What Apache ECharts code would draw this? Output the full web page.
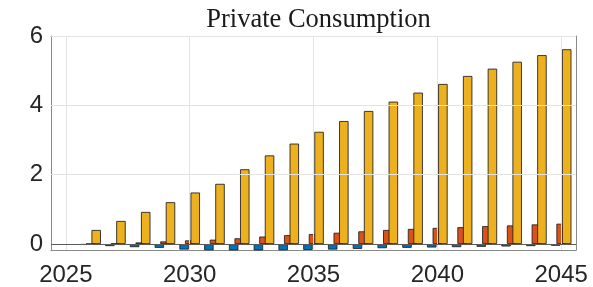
<!DOCTYPE html>
<html>
<head>
<meta charset="utf-8">
<script src="https://cdn.jsdelivr.net/npm/echarts@6/dist/echarts.min.js"></script>
<style>
html,body{margin:0;padding:0;background:#fff;}
#chart{width:593px;height:287px;}
</style>
</head>
<body>
<div id="chart"></div>
<script>
const years = [2026,2027,2028,2029,2030,2031,2032,2033,2034,2035,2036,2037,2038,2039,2040,2041,2042,2043,2044,2045];
const blueVals = [-0.02,-0.06,-0.09,-0.11,-0.16,-0.18,-0.19,-0.19,-0.18,-0.17,-0.16,-0.14,-0.12,-0.11,-0.10,-0.09,-0.08,-0.07,-0.06,-0.05];
const redVals = [0.01,0.02,0.05,0.08,0.11,0.13,0.17,0.22,0.26,0.29,0.33,0.37,0.41,0.44,0.47,0.49,0.52,0.54,0.57,0.59];
const yellowVals = [0.41,0.67,0.93,1.21,1.49,1.74,2.16,2.56,2.90,3.24,3.55,3.84,4.11,4.37,4.62,4.85,5.06,5.26,5.45,5.62];
const xTicks = [2025,2030,2035,2040,2045];
const yTicks = [0,2,4,6];
const titleText = 'Private Consumption';

const chart = echarts.init(document.getElementById('chart'), null, {renderer:'canvas'});
const pair = arr => years.map((y,i)=>[y, arr[i]]);
const axisColor = '#8a8a8a';
const labelFont = {fontFamily:'Liberation Sans', fontSize:24, color:'#262626'};
const edge = {borderColor:'rgba(30,30,30,0.85)', borderWidth:1};
const barCommon = {type:'bar', barWidth:9.6, barGap:'-42%', clip:true, silent:true, xAxisIndex:0, yAxisIndex:0};

chart.setOption({
  animation:false,
  title:{text:titleText, left:313.5, textAlign:'center', top:2,
    textStyle:{fontFamily:'Liberation Serif', fontSize:26.5, fontWeight:'normal', color:'#1a1a1a'}},
  grid:{left:51, right:17, top:36, bottom:36.5, containLabel:false},
  xAxis:[
    {type:'value', min:2024.4, max:2045.6, position:'bottom',
     axisLine:{show:true, onZero:false, lineStyle:{color:axisColor, width:1}},
     axisTick:{show:true, inside:true, length:6, customValues:xTicks, lineStyle:{color:axisColor}},
     axisLabel:{show:true, customValues:xTicks, margin:13, formatter:v=>String(v), ...labelFont},
     splitLine:{show:false}},
    {type:'value', min:2024.4, max:2045.6, position:'top',
     axisLine:{show:true, onZero:false, lineStyle:{color:axisColor, width:1}},
     axisTick:{show:true, inside:true, length:6, customValues:xTicks, lineStyle:{color:axisColor}},
     axisLabel:{show:false}, splitLine:{show:false}}
  ],
  yAxis:[
    {type:'value', min:-0.17, max:6, position:'left',
     axisLine:{show:true, onZero:false, lineStyle:{color:axisColor, width:1}},
     axisTick:{show:true, inside:true, length:6, customValues:yTicks, lineStyle:{color:axisColor}},
     axisLabel:{show:true, customValues:yTicks, margin:8, formatter:v=>String(v), ...labelFont},
     splitLine:{show:false}},
    {type:'value', min:-0.17, max:6, position:'right',
     axisLine:{show:true, onZero:false, lineStyle:{color:axisColor, width:1}},
     axisTick:{show:true, inside:true, length:6, customValues:yTicks, lineStyle:{color:axisColor}},
     axisLabel:{show:false}, splitLine:{show:false}}
  ],
  series:[
    {type:'line', data:[], silent:true, z:0,
     markLine:{silent:true, symbol:'none', label:{show:false}, animation:false,
       lineStyle:{color:'#e3e3e3', width:1, type:'solid'},
       data:[...xTicks.map(v=>({xAxis:v})), ...yTicks.filter(v=>v>0).map(v=>({yAxis:v}))]}},
    {type:'line', data:[], silent:true, z:1,
     markLine:{silent:true, symbol:'none', label:{show:false}, animation:false,
       lineStyle:{color:'#5a5a5a', width:1, type:'solid'},
       data:[{yAxis:0}]}},
    {...barCommon, name:'blue', z:2, data:pair(blueVals), itemStyle:{color:'#0072BD', ...edge}},
    {...barCommon, name:'red', z:3, data:pair(redVals), itemStyle:{color:'#D95319', ...edge}},
    {...barCommon, name:'yellow', z:4, data:pair(yellowVals), itemStyle:{color:'#EDB120', ...edge}}
  ]
});
</script>
</body>
</html>
